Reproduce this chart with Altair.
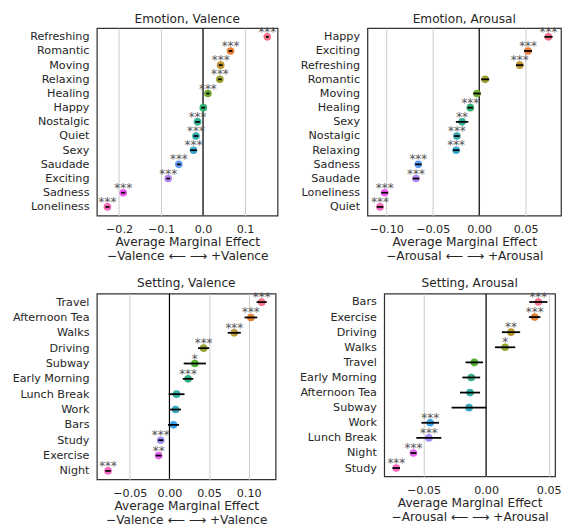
import math
import altair as alt
import pandas as pd

# ---------------- data ----------------
ev_cats = ["Refreshing", "Romantic", "Moving", "Relaxing", "Healing", "Happy", "Nostalgic",
           "Quiet", "Sexy", "Saudade", "Exciting", "Sadness", "Loneliness"]
ev_vals = [0.153, 0.0655, 0.042, 0.040, 0.0116, 0.0007, -0.013, -0.0168, -0.0227,
           -0.0576, -0.083, -0.190, -0.2275]
ev_errs = [0.0036, 0.0044, 0.0044, 0.0044, 0.0036, 0.0044, 0.0055, 0.0055, 0.008,
           0.0047, 0.0044, 0.005, 0.0047]
ev_sig = ["***", "***", "***", "***", "***", "", "***", "***", "***", "***", "***", "***", "***"]

ea_cats = ["Happy", "Exciting", "Refreshing", "Romantic", "Moving", "Healing", "Sexy",
           "Nostalgic", "Relaxing", "Sadness", "Saudade", "Loneliness", "Quiet"]
ea_vals = [0.0745, 0.0525, 0.0436, 0.0064, -0.0024, -0.0096, -0.0184, -0.024, -0.0248,
           -0.0655, -0.068, -0.1017, -0.1067]
ea_errs = [0.0044, 0.0043, 0.004, 0.0043, 0.004, 0.003, 0.0067, 0.003, 0.0035, 0.0034,
           0.0035, 0.0037, 0.0035]
ea_sig = ["***", "***", "***", "", "", "***", "**", "***", "***", "***", "***", "***", "***"]

sv_cats = ["Travel", "Afternoon Tea", "Walks", "Driving", "Subway", "Early Morning",
           "Lunch Break", "Work", "Bars", "Study", "Exercise", "Night"]
sv_vals = [0.1164, 0.1028, 0.0818, 0.0431, 0.032, 0.0235, 0.009, 0.0077, 0.0051,
           -0.011, -0.0136, -0.0775]
sv_errs = [0.0064, 0.008, 0.0083, 0.007, 0.014, 0.0066, 0.01, 0.0068, 0.007, 0.0032,
           0.0038, 0.0034]
sv_sig = ["***", "***", "***", "***", "*", "***", "", "", "", "***", "**", "***"]

sa_cats = ["Bars", "Exercise", "Driving", "Walks", "Travel", "Early Morning",
           "Afternoon Tea", "Subway", "Work", "Lunch Break", "Night", "Study"]
sa_vals = [0.0417, 0.0388, 0.0199, 0.0152, -0.0094, -0.0118, -0.0128, -0.0136,
           -0.0446, -0.0457, -0.058, -0.0717]
sa_errs = [0.0072, 0.0046, 0.0073, 0.0081, 0.007, 0.0071, 0.008, 0.0139, 0.007, 0.01,
           0.0024, 0.003]
sa_sig = ["***", "***", "**", "*", "", "", "", "", "***", "***", "***", "***"]

# ---------------- husl palette (seaborn) ----------------
M = [[3.2406, -1.5372, -0.4986],
     [-0.9689, 1.8758, 0.0415],
     [0.0557, -0.2040, 1.0570]]
REF_U, REF_V = 0.19784, 0.46834


def max_chroma(L, H):
    hrad = math.radians(H)
    sinH, cosH = math.sin(hrad), math.cos(hrad)
    sub1 = (L + 16) ** 3 / 1560896.0
    sub2 = sub1 if sub1 > 0.008856 else L / 903.3
    result = float("inf")
    for m1, m2, m3 in M:
        top = (0.99915 * m1 + 1.05122 * m2 + 1.14460 * m3) * sub2
        rbottom = 0.86330 * m3 - 0.17266 * m2
        lbottom = 0.12949 * m3 - 0.38848 * m1
        bottom = (rbottom * sinH + lbottom * cosH) * sub2
        for t in (0.0, 1.0):
            C = L * (top - 1.05122 * t) / (bottom + 0.17266 * sinH * t)
            if 0 < C < result:
                result = C
    return result


def husl_to_hex(H, S, L):
    C = max_chroma(L, H) / 100.0 * S
    hr = math.radians(H)
    U, V = math.cos(hr) * C, math.sin(hr) * C
    t = (L + 16) / 116.0
    Y = t ** 3 if t ** 3 > 0.008856 else (116 * t - 16) / 903.3
    vu = U / (13 * L) + REF_U
    vv = V / (13 * L) + REF_V
    X = -(9 * Y * vu) / ((vu - 4) * vv - vu * vv)
    Z = (9 * Y - 15 * vv * Y - vv * X) / (3 * vv)
    out = []
    for r in M:
        c = r[0] * X + r[1] * Y + r[2] * Z
        c = 12.92 * c if c <= 0.0031308 else 1.055 * c ** (1 / 2.4) - 0.055
        out.append(min(max(c, 0.0), 1.0))
    return "#%02x%02x%02x" % tuple(int(round(v * 255)) for v in out)


def husl_palette(n, h=0.01, s=0.9, l=0.65):
    hues = [((i / n) + h) % 1 * 359 for i in range(n)]
    return [husl_to_hex(hh, s * 99, l * 99) for hh in hues]


FONT = "DejaVu Sans"
TXT = "#262626"


def panel(title, cats, vals, errs, sig, domain, ticks, fmt, word, width, height,
          yext, pad, toff):
    df = pd.DataFrame({
        "cat": cats,
        "val": vals,
        "lo": [v - e for v, e in zip(vals, errs)],
        "hi": [v + e for v, e in zip(vals, errs)],
        "sig": sig,
        "col": husl_palette(len(cats)),
    })
    yenc = alt.Y("cat:N", sort=cats, scale=alt.Scale(type="point", padding=pad),
                 axis=alt.Axis(title=None, ticks=False, tickSize=0, domain=False,
                               grid=False, labelPadding=8, minExtent=yext,
                               maxExtent=yext))
    xscale = alt.Scale(domain=domain, nice=False, zero=False)
    xaxis = alt.Axis(values=ticks, format=fmt, grid=True, gridColor="#cccccc",
                     gridWidth=1, ticks=False, tickSize=0, domain=False,
                     labelPadding=8,
                     title=["Average Marginal Effect",
                            f"\u2212{word} \u27f5 \u27f6 +{word}"])
    base = alt.Chart(df)
    zero = alt.Chart(pd.DataFrame({"val": [0.0]})).mark_rule(
        color="black", strokeWidth=1.2).encode(x=alt.X("val:Q", scale=xscale, axis=xaxis))
    dots = base.mark_circle(size=60, opacity=1).encode(
        x=alt.X("val:Q", scale=xscale, axis=xaxis), y=yenc,
        fill=alt.Fill("col:N", scale=None))
    bars = base.mark_rule(color="black", strokeWidth=1.8).encode(
        x=alt.X("lo:Q", scale=xscale, axis=xaxis), x2="hi:Q", y=yenc)
    stars = base.mark_text(baseline="alphabetic", dy=-1, fontSize=12, font=FONT,
                           fill="#555555", opacity=1).encode(
        x=alt.X("val:Q", scale=xscale, axis=xaxis), y=yenc, text="sig:N")
    return alt.layer(zero, dots, bars, stars).properties(
        width=width, height=height,
        title=alt.Title(title, fontSize=12.3, font=FONT, fontWeight="normal",
                        color=TXT, offset=toff))


p1 = panel("Emotion, Valence", ev_cats, ev_vals, ev_errs, ev_sig, [-0.2527, 0.1775],
           [-0.2, -0.1, 0.0, 0.1], ".1f", "Valence", 183, 190, 89, 0.62, 1)
p2 = panel("Emotion, Arousal", ea_cats, ea_vals, ea_errs, ea_sig, [-0.1202, 0.088],
           [-0.1, -0.05, 0.0, 0.05], ".2f", "Arousal", 196, 190, 75, 0.62, 1)
p3 = panel("Setting, Valence", sv_cats, sv_vals, sv_errs, sv_sig, [-0.0916, 0.134],
           [-0.05, 0.0, 0.05, 0.1], ".2f", "Valence", 181, 188, 89, 0.55, 2)
p4 = panel("Setting, Arousal", sa_cats, sa_vals, sa_errs, sa_sig, [-0.0813, 0.0551],
           [-0.05, 0.0, 0.05], ".2f", "Arousal", 173, 185, 93.5, 0.55, 2)

row1 = alt.hconcat(p1, p2, spacing=14)
row2 = alt.hconcat(p3, p4, spacing=14)

chart = alt.vconcat(row1, row2, spacing=13).properties(
    padding={"left": 0, "top": 0, "right": 0, "bottom": 0}
).configure_view(
    stroke="#333333", strokeWidth=1.25
).configure_axis(
    labelFont=FONT, labelFontSize=11.3, labelColor=TXT,
    titleFont=FONT, titleFontSize=12.3, titleColor=TXT, titleFontWeight="normal",
    titleLineHeight=14, titlePadding=1
).configure_text(font=FONT)

chart.save("out.html", embed_options={"renderer": "svg", "actions": False})
